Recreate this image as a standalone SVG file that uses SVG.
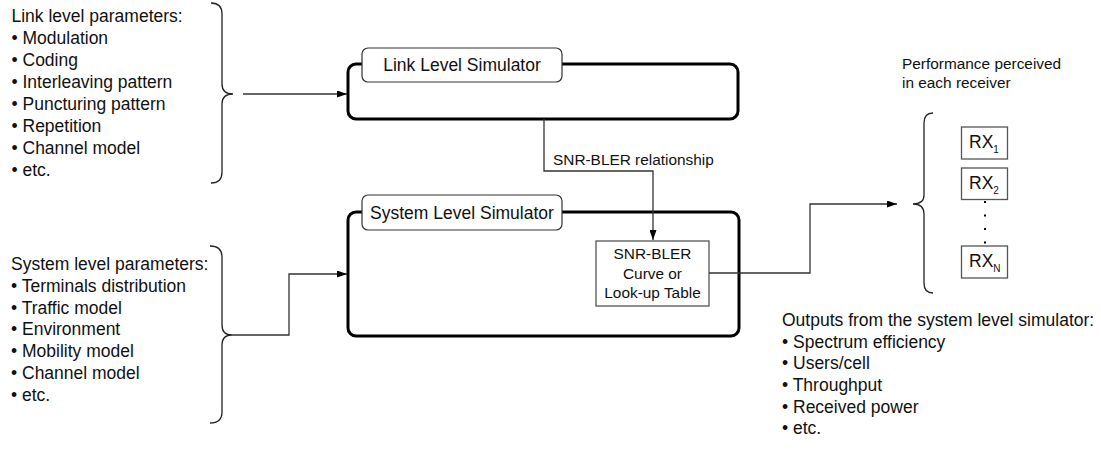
<svg xmlns="http://www.w3.org/2000/svg" width="1101" height="459" viewBox="0 0 1101 459">
<style>
text{font-family:"Liberation Sans",Arial,Helvetica,sans-serif;fill:#111;}
.t17{font-size:17.5px;}
.t15{font-size:15.4px;}
.big{fill:none;stroke:#000;stroke-width:3;}
.lbl{fill:#fff;stroke:#333;stroke-width:1.2;}
.box{fill:#fff;stroke:#555;stroke-width:1.3;}
.brace{fill:none;stroke:#222;stroke-width:1.3;}
.conn{fill:none;stroke:#333;stroke-width:1.3;}
.mid{text-anchor:middle;}
</style>
<defs>
<marker id="arr" viewBox="0 0 10 7" refX="10" refY="3.5" markerWidth="10" markerHeight="7" markerUnits="userSpaceOnUse" orient="auto">
<path d="M0,0 L10,3.5 L0,7 z" fill="#000"/>
</marker>
</defs>

<g id="link-params">
<text class="t17" x="11.5" y="22">Link level parameters:</text>
<text class="t17" x="11.5" y="44">• Modulation</text>
<text class="t17" x="11.5" y="66">• Coding</text>
<text class="t17" x="11.5" y="88">• Interleaving pattern</text>
<text class="t17" x="11.5" y="110">• Puncturing pattern</text>
<text class="t17" x="11.5" y="131.5">• Repetition</text>
<text class="t17" x="11.5" y="153.5">• Channel model</text>
<text class="t17" x="11.5" y="175.5">• etc.</text>
<path class="brace" d="M211,3 Q222,3 222,14 L222,84 Q222,94 233,94 Q222,94 222,104 L222,172 Q222,183 211,183"/>
</g>

<g id="system-params">
<text class="t17" x="11" y="270">System level parameters:</text>
<text class="t17" x="11" y="291.5">• Terminals distribution</text>
<text class="t17" x="11" y="313.5">• Traffic model</text>
<text class="t17" x="11" y="335">• Environment</text>
<text class="t17" x="11" y="357">• Mobility model</text>
<text class="t17" x="11" y="378.5">• Channel model</text>
<text class="t17" x="11" y="400.5">• etc.</text>
<path class="brace" d="M210,246 Q222,246 222,257 L222,325 Q222,335 232,335 Q222,335 222,345 L222,412 Q222,423 210,423"/>
</g>

<g id="link-simulator">
<rect class="big" x="348" y="64" width="390" height="55" rx="8"/>
<rect class="lbl" x="362" y="48" width="200" height="34" rx="6"/>
<text class="t17 mid" x="462" y="71">Link Level Simulator</text>
</g>

<g id="system-simulator">
<rect class="big" x="348" y="212" width="391" height="124" rx="8"/>
<rect class="lbl" x="362" y="195" width="200" height="35" rx="6"/>
<text class="t17 mid" x="462" y="219">System Level Simulator</text>
</g>

<g id="snr-table">
<rect class="box" x="596" y="241" width="113" height="65"/>
<text class="t15 mid" x="652.5" y="259">SNR-BLER</text>
<text class="t15 mid" x="652.5" y="278.5">Curve or</text>
<text class="t15 mid" x="652.5" y="298">Look-up Table</text>
</g>

<g id="receivers">
<text class="t15" x="902" y="69">Performance perceived</text>
<text class="t15" x="902" y="88">in each receiver</text>
<path class="brace" d="M933,113 Q924,113 924,123 L924,195 Q924,204 913,204 Q924,204 924,214 L924,283 Q924,293 933,293"/>
<rect class="box" x="961.5" y="127" width="46" height="32"/>
<text class="t17" x="969" y="148">RX<tspan font-size="10" dy="5">1</tspan></text>
<rect class="box" x="961.5" y="168" width="46" height="31.5"/>
<text class="t17" x="969" y="188.5">RX<tspan font-size="10" dy="5">2</tspan></text>
<rect x="984" y="201" width="2" height="2" fill="#000"/>
<rect x="984" y="214.5" width="2" height="2" fill="#000"/>
<rect x="984" y="228" width="2" height="2" fill="#000"/>
<rect x="984" y="241.5" width="2" height="2" fill="#000"/>
<rect class="box" x="961.5" y="246" width="46" height="32"/>
<text class="t17" x="969" y="267">RX<tspan font-size="10" dy="5">N</tspan></text>
</g>

<g id="outputs">
<text class="t17" x="782" y="326">Outputs from the system level simulator:</text>
<text class="t17" x="782" y="347.5">• Spectrum efficiency</text>
<text class="t17" x="782" y="369">• Users/cell</text>
<text class="t17" x="782" y="391">• Throughput</text>
<text class="t17" x="782" y="412.5">• Received power</text>
<text class="t17" x="782" y="434">• etc.</text>
</g>

<g id="connectors">
<path class="conn" d="M243,94 H347" marker-end="url(#arr)"/>
<path class="conn" d="M232,335 H289 V274 H347" marker-end="url(#arr)"/>
<path class="conn" d="M544,119 V171 H653 V240" marker-end="url(#arr)"/>
<text class="t15" x="553" y="165">SNR-BLER relationship</text>
<path class="conn" d="M709,273 H810 V204 H897" marker-end="url(#arr)"/>
</g>
</svg>
